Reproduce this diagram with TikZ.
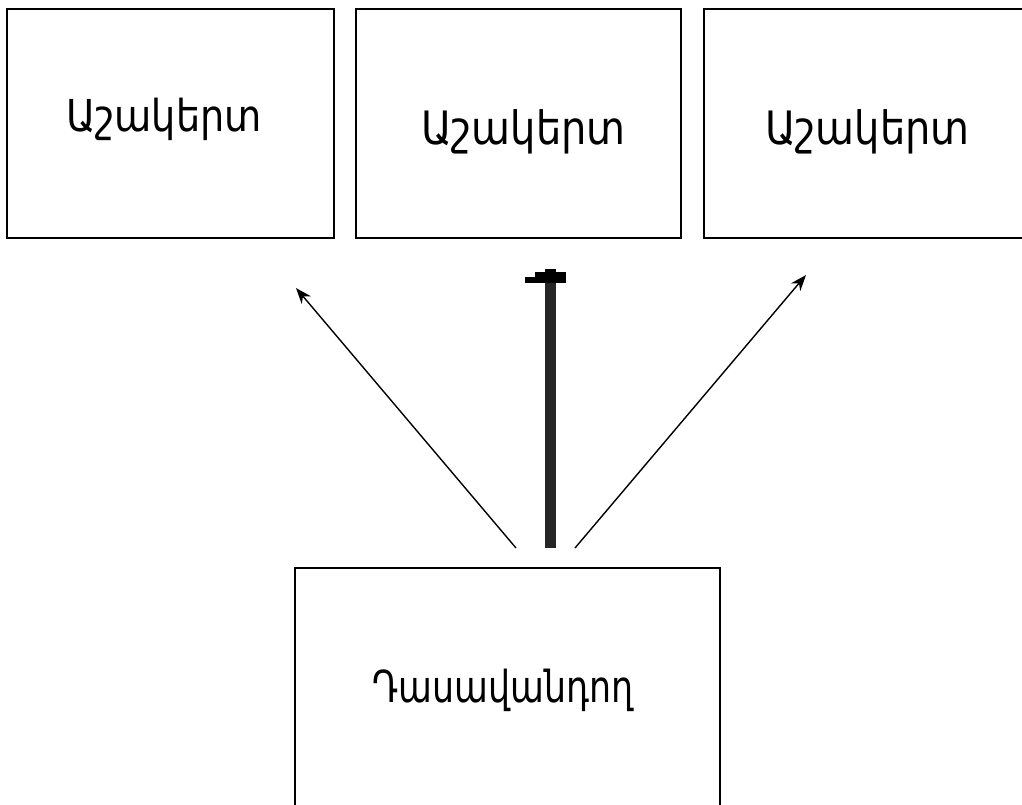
\documentclass[tikz,border=0pt]{standalone}
\usepackage{fontspec}
\usetikzlibrary{arrows.meta}
\newfontfamily\armfont[FakeStretch=0.87]{DejaVu Sans}
\newfontfamily\armfontn[FakeStretch=0.79]{DejaVu Sans}
\begin{document}
\begin{tikzpicture}[x=1pt,y=-1pt,
  box/.style={draw=black,line width=2pt,rectangle,inner sep=0pt},
  lbl/.style={font=\armfont\fontsize{44}{52}\selectfont,inner sep=0pt,anchor=base west},
  lblb/.style={font=\armfont\fontsize{46}{54}\selectfont,inner sep=0pt,anchor=base west},
  lbln/.style={font=\armfontn\fontsize{44}{52}\selectfont,inner sep=0pt,anchor=base west},
  thin arrow/.style={line width=1.4pt,-{Stealth[length=16pt,width=12pt]}}]
\useasboundingbox (0,0) rectangle (1022,805);
\clip (0,0) rectangle (1022,805);
\node[box,minimum width=327pt,minimum height=229pt] (s1) at (170.5,123.5) {};
\node[box,minimum width=325pt,minimum height=229pt] (s2) at (518.5,123.5) {};
\node[box,minimum width=325pt,minimum height=229pt] (s3) at (866.5,123.5) {};
\node[box,minimum width=425pt,minimum height=260pt] (t) at (507.5,698) {};
\node[lbl] (l1) at (66,132) {Աշակերտ};
\node[lblb] (l2) at (421,145) {Աշակերտ};
\node[lblb] (l3) at (765,145) {Աշակերտ};
\node[lbln] (lt) at (372,702) {Դասավանդող};
\coordinate (a1s) at (516,548);
\coordinate (a1e) at (296,288);
\coordinate (a3s) at (575,548);
\coordinate (a3e) at (806,275);
\coordinate (a2s) at (550.5,548);
\coordinate (a2e) at (550.5,283);
\draw[thin arrow] (a1s) -- (a1e);
\draw[thin arrow] (a3s) -- (a3e);
\draw[line width=11pt,color=black!85] (a2s) -- (a2e);
\fill[black] ([xshift=-25.5pt]a2e) rectangle ([xshift=15.5pt,yshift=6pt]a2e);
\fill[black] ([xshift=-15.5pt,yshift=6pt]a2e) rectangle ([xshift=15.5pt,yshift=11pt]a2e);
\fill[black] ([xshift=-5.5pt,yshift=11pt]a2e) rectangle ([xshift=5.5pt,yshift=14pt]a2e);
\end{tikzpicture}
\end{document}
